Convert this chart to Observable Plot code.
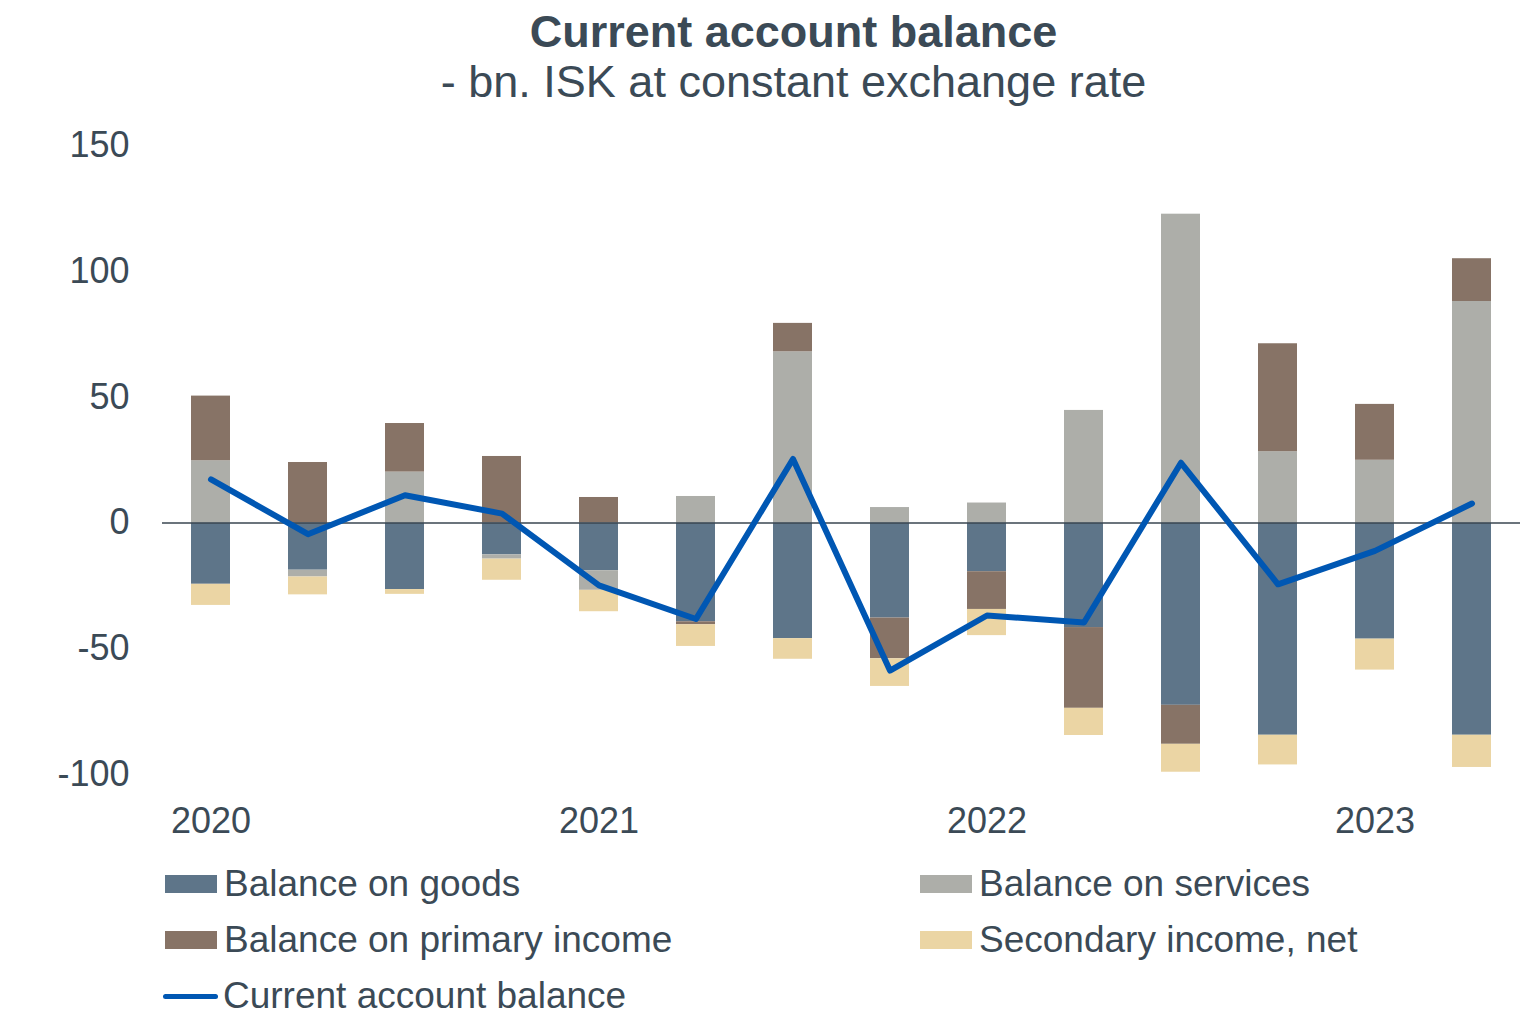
<!DOCTYPE html>
<html>
<head>
<meta charset="utf-8">
<script src="https://cdn.jsdelivr.net/npm/d3@7"></script>
<script src="https://cdn.jsdelivr.net/npm/@observablehq/plot@0.6"></script>
<style>
  html, body { margin: 0; padding: 0; background: #fff; }
  body { width: 1536px; height: 1014px; position: relative; overflow: hidden;
         font-family: "Liberation Sans", Arial, sans-serif; color: #3b4a56; }
  .title { position: absolute; left: 0; width: 1587px; text-align: center; line-height: 1; white-space: nowrap; }
  #t1 { top: 9px; font-size: 45px; font-weight: bold; }
  #t2 { top: 59px; font-size: 45px; }
  #chart { position: absolute; left: 0; top: 110px; }
  .lg { position: absolute; height: 40px; display: flex; align-items: center; font-size: 37px; white-space: nowrap; }
  .sw { width: 52px; height: 18px; margin-right: 7px; flex: none; }
  .ln { width: 55px; height: 5px; border-radius: 3px; margin-right: 5px; flex: none; }
</style>
</head>
<body>
<div class="title" id="t1"></div>
<div class="title" id="t2"></div>
<div id="chart"></div>
<div id="legend"></div>
<script>
const titleText = "Current account balance";
const subtitleText = "- bn. ISK at constant exchange rate";

const quarters = ["2020Q1","2020Q2","2020Q3","2020Q4","2021Q1","2021Q2","2021Q3","2021Q4",
                  "2022Q1","2022Q2","2022Q3","2022Q4","2023Q1","2023Q2"];
const yearTicks = ["2020Q1","2021Q1","2022Q1","2023Q1"];
const yearLabels = ["2020","2021","2022","2023"];
const yTicks = [-100, -50, 0, 50, 100, 150];

const goods     = [-24.4, -18.8, -26.5, -12.7, -19.0, -39.3, -46.0, -37.8, -19.4, -41.6, -72.5, -84.4, -46.2, -84.4];
const services  = [ 24.7,  -2.7,  20.2,  -1.7,  -7.8,  10.5,  68.0,   6.1,   7.9,  44.7, 122.7,  28.3,  24.9,  88.0];
const primary   = [ 25.7,  24.0,  19.3,  26.4,  10.1,  -1.2,  11.3, -16.2, -15.0, -32.1, -15.5,  42.9,  22.2,  17.0];
const secondary = [ -8.4,  -7.1,  -1.9,  -8.4,  -8.5,  -8.6,  -8.2, -11.0, -10.4, -10.8, -11.1, -11.8, -12.3, -12.8];
const current   = [ 17.3,  -4.5,  11.0,   3.7, -24.8, -38.2,  25.4, -58.7, -36.8, -39.6,  23.9, -24.4, -11.1,   7.7];

const seriesNames = ["Balance on goods","Balance on services","Balance on primary income","Secondary income, net"];
const seriesColors = ["#5e7589","#adaea9","#877366","#ebd5a4"];
const lineName = "Current account balance";
const lineColor = "#0057b3";

const seriesValues = [goods, services, primary, secondary];
const barData = [];
quarters.forEach((q, i) => {
  seriesNames.forEach((s, k) => barData.push({q, s, v: seriesValues[k][i]}));
});
const lineData = quarters.map((q, i) => ({q, v: current[i]}));

document.getElementById("t1").textContent = titleText;
document.getElementById("t2").textContent = subtitleText;

const plot = Plot.plot({
  width: 1536,
  height: 740,
  marginLeft: 162,
  marginRight: 16,
  marginTop: 35,
  marginBottom: 76,
  style: {fontFamily: '"Liberation Sans", Arial, sans-serif', fontSize: "36px", color: "#3b4a56", background: "transparent"},
  x: {type: "band", domain: quarters, paddingInner: 0.6, paddingOuter: 0.3, align: 0.5},
  y: {domain: [-100, 150]},
  color: {domain: seriesNames, range: seriesColors},
  marks: [
    Plot.barY(barData, Plot.stackY({order: seriesNames}, {x: "q", y: "v", fill: "s", z: "s"})),
    Plot.ruleY([0], {stroke: "#3a4650", strokeWidth: 1.5}),
    Plot.line(lineData, {x: "q", y: "v", stroke: lineColor, strokeWidth: 6, strokeLinejoin: "round", strokeLinecap: "round"}),
    Plot.axisY({ticks: yTicks, tickSize: 0, tickPadding: 33, label: null, fontSize: 36, tickFormat: d => String(d)}),
    Plot.axisX({ticks: yearTicks, tickFormat: d => yearLabels[yearTicks.indexOf(d)], tickSize: 0, tickPadding: 33, label: null, fontSize: 36})
  ]
});
document.getElementById("chart").appendChild(plot);

// legend
const legend = document.getElementById("legend");
const items = [
  {name: seriesNames[0], color: seriesColors[0], x: 165, y: 864},
  {name: seriesNames[1], color: seriesColors[1], x: 920, y: 864},
  {name: seriesNames[2], color: seriesColors[2], x: 165, y: 920},
  {name: seriesNames[3], color: seriesColors[3], x: 920, y: 920},
  {name: lineName, color: lineColor, x: 163, y: 976, line: true}
];
items.forEach(it => {
  const d = document.createElement("div");
  d.className = "lg";
  d.style.left = it.x + "px";
  d.style.top = it.y + "px";
  const s = document.createElement("span");
  s.className = it.line ? "ln" : "sw";
  s.style.background = it.color;
  const t = document.createElement("span");
  t.textContent = it.name;
  d.appendChild(s); d.appendChild(t);
  legend.appendChild(d);
});
</script>
</body>
</html>
